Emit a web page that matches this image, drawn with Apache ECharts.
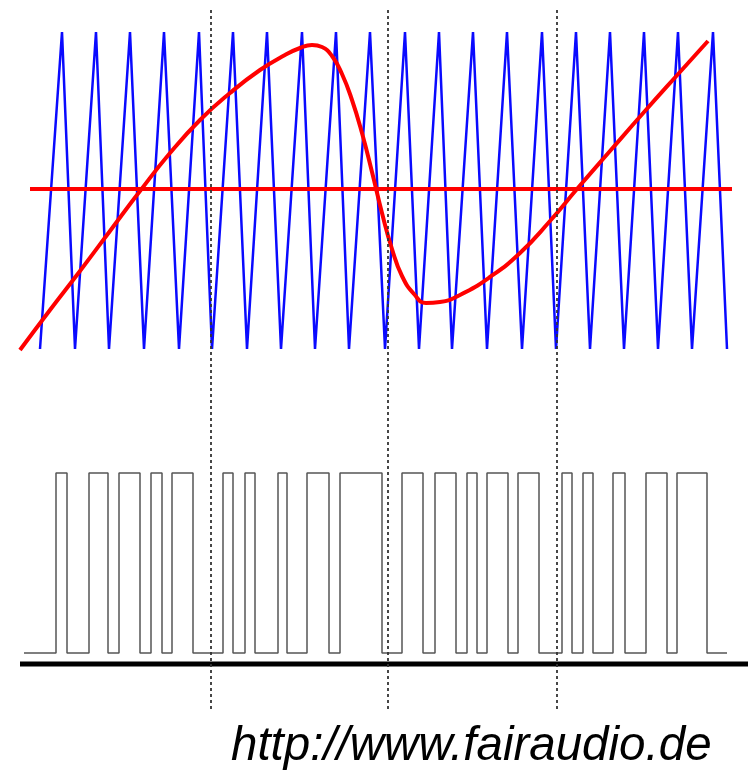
<!DOCTYPE html>
<html>
<head>
<meta charset="utf-8">
<script src="https://cdn.jsdelivr.net/npm/echarts@6/dist/echarts.min.js"></script>
<style>
html,body{margin:0;padding:0;background:#fff;}
#c{width:753px;height:772px;}
</style>
</head>
<body>
<div id="c"></div>
<script>
// Triangle carrier vertices (x), alternating trough / peak
const carrierX = [40,62,75,96,109,130,144,164,179,199,212,233,247,267,281,302,315,336,349,370,
                  385,405,419,439,452,473,487,507,522,542,556,576,590,610,624,644,658,678,692,713,727];
const carrierLow = 349, carrierHigh = 32;
// Red modulating signal (x, y)
const signalX = [20,50,80,110,140,170,200,230,260,285,300,312,322,332,342,352,362,372,382,392,402,414,426,440,460,490,520,550,577,610,645,680,708];
const signalY = [350,310,271,231,191,153,120,93,70,55,48,45,47,56,74,100,133,172,213,249,276,294,303,302,295,277,253,221,189,151,111,72,41];
// Zero reference line
const zeroX = [30,732];
const zeroY = 189;
// PWM output edges (alternating rise / fall)
const pwmEdges = [56,67,89,108,119,140,151,162,172,193,223,233,245,255,278,287,307,329,340,382,
                  402,423,435,456,467,477,487,508,518,539,562,572,583,593,613,625,646,667,677,707];
const pwmStart = 24, pwmEnd = 727, pwmHigh = 473, pwmLow = 653;
// Baseline
const baseX = [20,748];
const baseY = 664;
// Dotted guide lines
const guideX = [211,388,557];
const guideTop = 10, guideBottom = 710;
const urlText = 'http://www.fairaudio.de';

const carrier = carrierX.map((x,i)=>[x, i%2===0 ? carrierLow : carrierHigh]);
const signal = signalX.map((x,i)=>[x, signalY[i]]);
const pwm = [[pwmStart,pwmLow]];
let lvl = pwmLow;
pwmEdges.forEach((x,i)=>{
  const nl = (i%2===0) ? pwmHigh : pwmLow;
  pwm.push([x,lvl]); pwm.push([x,nl]); lvl = nl;
});
pwm.push([pwmEnd,lvl]);

const series = [
  {type:'line', data:carrier, symbol:'none', lineStyle:{color:'#0a0aff', width:2.5}, z:2, animation:false},
  {type:'line', data:zeroX.map(x=>[x,zeroY]), symbol:'none', lineStyle:{color:'#ff0000', width:4}, z:3, animation:false},
  {type:'line', data:signal, symbol:'none', smooth:0.5, lineStyle:{color:'#ff0000', width:4}, z:4, animation:false},
  {type:'line', data:pwm, symbol:'none', lineStyle:{color:'#555', width:1.5}, z:2, animation:false},
  {type:'line', data:baseX.map(x=>[x,baseY]), symbol:'none', lineStyle:{color:'#000', width:5}, z:3, animation:false}
];
guideX.forEach(x=>{
  series.push({type:'line', data:[[x,guideTop],[x,guideBottom]], symbol:'none',
    lineStyle:{color:'#333', width:1.8, type:[3,3]}, z:6, animation:false});
});

const chart = echarts.init(document.getElementById('c'));
chart.setOption({
  animation:false,
  grid:{left:0,right:0,top:0,bottom:0},
  xAxis:{type:'value', min:0, max:753, show:false},
  yAxis:{type:'value', min:0, max:772, inverse:true, show:false},
  series: series,
  graphic:[{type:'text', left:231, top:723, style:{text:urlText, fill:'#000',
    font:'italic 47.5px "Liberation Sans", Arial, sans-serif'}}]
});
</script>
</body>
</html>
